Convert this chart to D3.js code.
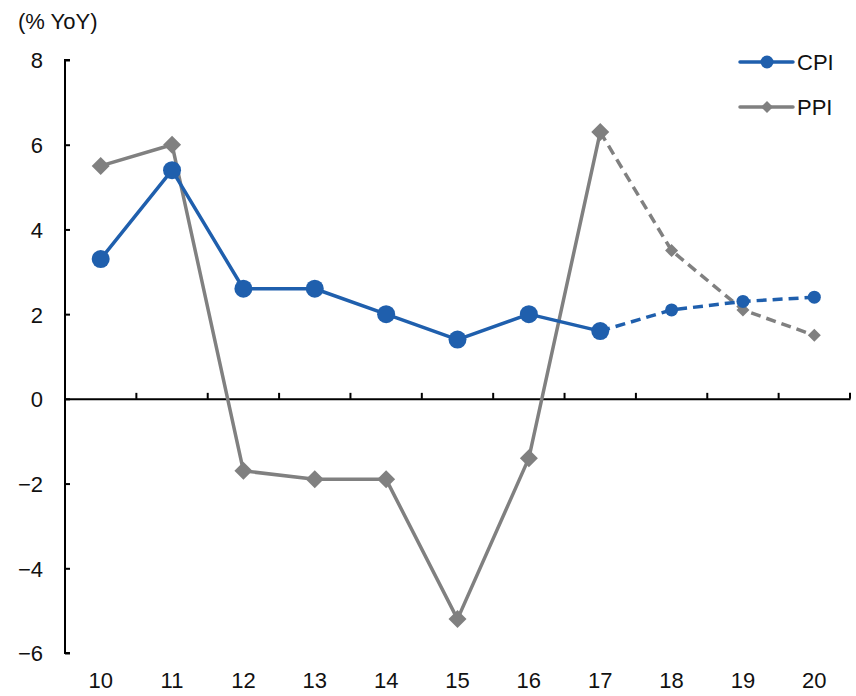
<!DOCTYPE html>
<html><head><meta charset="utf-8">
<script src="https://cdn.jsdelivr.net/npm/d3@7"></script>
<style>body{margin:0;background:#fff}text{font-family:"Liberation Sans",Arial,sans-serif}</style>
</head><body>
<svg id="c" width="856" height="696"></svg>
<script>
const years = ["10","11","12","13","14","15","16","17","18","19","20"];
const cpi = [3.3,5.4,2.6,2.6,2.0,1.4,2.0,1.6,2.1,2.3,2.4];
const ppi = [5.5,6.0,-1.7,-1.9,-1.9,-5.2,-1.4,6.3,3.5,2.1,1.5];
const yTicks = [-6,-4,-2,0,2,4,6,8];
const forecastStart = 7; // index of "17": dashed from here
const unitLabel = "(% YoY)";
const BLUE = "#1f5fad", GRAY = "#808080";

const svg = d3.select("#c");
const x = d3.scaleBand().domain(years).range([65, 850]).padding(0);
const y = d3.scaleLinear().domain([-6, 8]).range([653, 60]);
const cx = d => x(d) + x.bandwidth()/2;

// y axis
const ya = svg.append("g").attr("transform","translate(65,0)")
  .call(d3.axisRight(y).tickValues(yTicks).tickSize(5).tickFormat(d => d < 0 ? "\u2212" + Math.abs(d) : d));
ya.select(".domain").attr("stroke","#000").attr("stroke-width",2).attr("d","M5,60H0V653H5");
ya.selectAll(".tick line").attr("stroke","#000").attr("stroke-width",2);
ya.selectAll(".tick text").attr("x",-22).attr("text-anchor","end").attr("font-size",22).attr("fill","#111").attr("dy","0.36em");

// x axis at zero
const xa = svg.append("g").attr("transform",`translate(0,${y(0)})`)
  .call(d3.axisTop(x).tickSize(0).tickFormat(""));
xa.select(".domain").attr("stroke","#000").attr("stroke-width",2);
xa.selectAll(".tick").remove();
const bounds = years.map(d => x(d)).concat([x(years[years.length-1]) + x.bandwidth()]);
xa.selectAll("line.b").data(bounds.slice(1)).join("line").attr("class","b")
  .attr("x1",d=>d).attr("x2",d=>d).attr("y1",0).attr("y2",-6).attr("stroke","#000").attr("stroke-width",2);

// x labels at bottom
svg.selectAll("text.xl").data(years).join("text").attr("class","xl")
  .attr("x", d => cx(d)).attr("y", 688).attr("text-anchor","middle").attr("font-size",22).attr("fill","#111").text(d=>d);

svg.append("text").attr("x",18).attr("y",29).attr("font-size",22).attr("fill","#111").text(unitLabel);

function drawSeries(vals, color, isCircle) {
  const pts = vals.map((v,i)=>({x:cx(years[i]), y:y(v), i}));
  const line = d3.line().x(d=>d.x).y(d=>d.y);
  svg.append("path").attr("d", line(pts.slice(0, forecastStart+1))).attr("fill","none")
    .attr("stroke",color).attr("stroke-width",3.5).attr("stroke-linejoin","round");
  svg.append("path").attr("d", line(pts.slice(forecastStart))).attr("fill","none")
    .attr("stroke",color).attr("stroke-width",3.5).attr("stroke-dasharray","10,6");
  pts.forEach(p => {
    const big = p.i <= forecastStart;
    if (isCircle) {
      svg.append("circle").attr("cx",p.x).attr("cy",p.y).attr("r", big ? 9 : 6.5).attr("fill",color);
    } else {
      const s = big ? 9 : 6.5;
      svg.append("path").attr("d",`M${p.x},${p.y-s}L${p.x+s},${p.y}L${p.x},${p.y+s}L${p.x-s},${p.y}Z`).attr("fill",color);
    }
  });
}
drawSeries(ppi, GRAY, false);
drawSeries(cpi, BLUE, true);

// legend
const leg = [{n:"CPI",c:BLUE,circ:true,y:62},{n:"PPI",c:GRAY,circ:false,y:107}];
leg.forEach(l => {
  svg.append("line").attr("x1",740).attr("x2",793).attr("y1",l.y).attr("y2",l.y).attr("stroke",l.c).attr("stroke-width",3.5).attr("stroke-linecap","round");
  if (l.circ) svg.append("circle").attr("cx",767).attr("cy",l.y).attr("r",6.5).attr("fill",l.c);
  else svg.append("path").attr("d",`M767,${l.y-6}L773,${l.y}L767,${l.y+6}L761,${l.y}Z`).attr("fill",l.c);
  svg.append("text").attr("x",797).attr("y",l.y).attr("dy","0.36em").attr("font-size",22).attr("fill","#111").text(l.n);
});
</script>
</body></html>
